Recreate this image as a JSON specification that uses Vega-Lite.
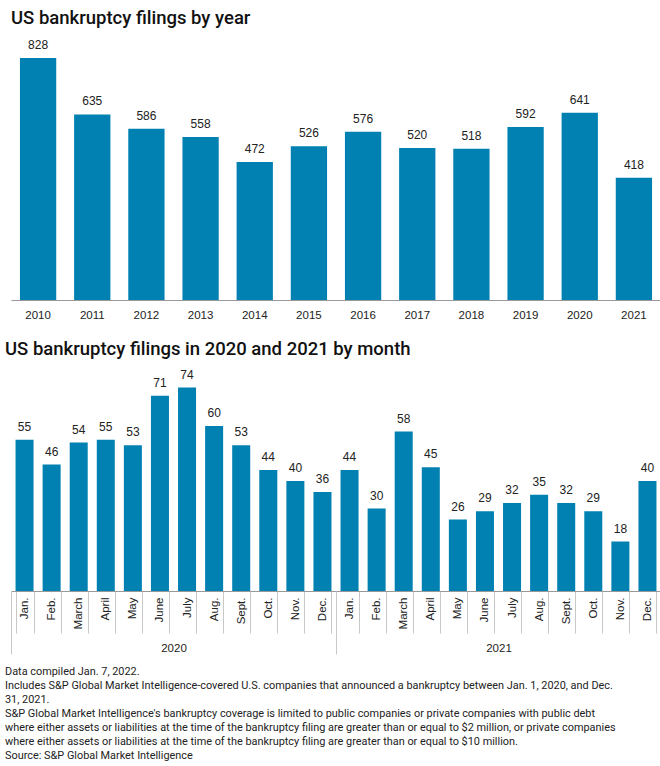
{
  "$schema": "https://vega.github.io/schema/vega-lite/v6.json",
  "padding": {"left": 5, "right": 5, "top": 8, "bottom": 4},
  "autosize": {"type": "pad"},
  "background": "white",
  "config": {
    "view": {"stroke": null},
    "font": "Liberation Sans",
    "title": {"anchor": "start", "fontSize": 18.5, "font": "Roboto", "fontWeight": 500, "color": "#111111"}
  },
  "spacing": 18,
  "title": {
    "text": [
      "Data compiled Jan. 7, 2022.",
      "Includes S&P Global Market Intelligence-covered U.S. companies that announced a bankruptcy between Jan. 1, 2020, and Dec.",
      "31, 2021.",
      "S&P Global Market Intelligence's bankruptcy coverage is limited to public companies or private companies with public debt",
      "where either assets or liabilities at the time of the bankruptcy filing are greater than or equal to $2 million, or private companies",
      "where either assets or liabilities at the time of the bankruptcy filing are greater than or equal to $10 million.",
      "Source: S&P Global Market Intelligence"
    ],
    "orient": "bottom",
    "anchor": "start",
    "fontSize": 10.9,
    "font": "Roboto",
    "fontWeight": "normal",
    "lineHeight": 14,
    "offset": 11,
    "color": "#222222"
  },
  "vconcat": [
    {
      "title": {"text": "US bankruptcy filings by year", "offset": 10},
      "width": 650,
      "height": 263,
      "data": {"values": [
        {"year": "2010", "count": 828},
        {"year": "2011", "count": 635},
        {"year": "2012", "count": 586},
        {"year": "2013", "count": 558},
        {"year": "2014", "count": 472},
        {"year": "2015", "count": 526},
        {"year": "2016", "count": 576},
        {"year": "2017", "count": 520},
        {"year": "2018", "count": 518},
        {"year": "2019", "count": 592},
        {"year": "2020", "count": 641},
        {"year": "2021", "count": 418}
      ]},
      "encoding": {
        "x": {"field": "year", "type": "ordinal", "sort": null,
          "scale": {"paddingInner": 0.33, "paddingOuter": 0.165},
          "axis": {"title": null, "labelAngle": 0, "ticks": false, "labelPadding": 9, "domainColor": "#999999", "labelFontSize": 11.5, "labelColor": "#222222"}},
        "y": {"field": "count", "type": "quantitative", "scale": {"domain": [0, 900]}, "axis": null}
      },
      "layer": [
        {"mark": {"type": "bar", "color": "#0081b2"}},
        {"mark": {"type": "text", "baseline": "bottom", "dy": -6, "fontSize": 12, "color": "#222222"}, "encoding": {"text": {"field": "count"}}}
      ]
    },
    {
      "title": {"text": "US bankruptcy filings in 2020 and 2021 by month", "offset": 10},
      "width": 650,
      "height": 220,
      "data": {"values": [
        {"key": "Jan. 2020", "year": "2020", "count": 55},
        {"key": "Feb. 2020", "year": "2020", "count": 46},
        {"key": "March 2020", "year": "2020", "count": 54},
        {"key": "April 2020", "year": "2020", "count": 55},
        {"key": "May 2020", "year": "2020", "count": 53},
        {"key": "June 2020", "year": "2020", "count": 71},
        {"key": "July 2020", "year": "2020", "count": 74},
        {"key": "Aug. 2020", "year": "2020", "count": 60},
        {"key": "Sept. 2020", "year": "2020", "count": 53},
        {"key": "Oct. 2020", "year": "2020", "count": 44},
        {"key": "Nov. 2020", "year": "2020", "count": 40},
        {"key": "Dec. 2020", "year": "2020", "count": 36},
        {"key": "Jan. 2021", "year": "2021", "count": 44},
        {"key": "Feb. 2021", "year": "2021", "count": 30},
        {"key": "March 2021", "year": "2021", "count": 58},
        {"key": "April 2021", "year": "2021", "count": 45},
        {"key": "May 2021", "year": "2021", "count": 26},
        {"key": "June 2021", "year": "2021", "count": 29},
        {"key": "July 2021", "year": "2021", "count": 32},
        {"key": "Aug. 2021", "year": "2021", "count": 35},
        {"key": "Sept. 2021", "year": "2021", "count": 32},
        {"key": "Oct. 2021", "year": "2021", "count": 29},
        {"key": "Nov. 2021", "year": "2021", "count": 18},
        {"key": "Dec. 2021", "year": "2021", "count": 40}
      ]},
      "layer": [
        {
          "encoding": {
            "x": {"field": "key", "type": "ordinal", "sort": null,
              "scale": {"paddingInner": 0.335, "paddingOuter": 0.1675},
              "axis": {"title": null, "orient": "bottom", "labelAngle": -90, "labelAlign": "right", "labelBaseline": "middle", "tickBand": "extent", "tickSize": 42, "tickColor": "#c8c8c8", "labelPadding": -36, "domainColor": "#999999", "labelExpr": "isValid(datum.value) ? split(datum.value, ' ')[0] : ''", "labelFontSize": 11.5, "labelColor": "#222222"}},
            "y": {"field": "count", "type": "quantitative", "scale": {"domain": [0, 80]}, "axis": null}
          },
          "layer": [
            {"mark": {"type": "bar", "color": "#0081b2"}},
            {"mark": {"type": "text", "baseline": "bottom", "dy": -6, "fontSize": 12, "color": "#222222"}, "encoding": {"text": {"field": "count"}}}
          ]
        },
        {
          "mark": {"type": "tick", "opacity": 0},
          "encoding": {
            "x": {"field": "year", "type": "ordinal",
              "scale": {"paddingInner": 0, "paddingOuter": 0},
              "axis": {"title": null, "orient": "bottom", "labelAngle": 0, "tickBand": "extent", "tickSize": 63, "tickColor": "#c8c8c8", "labelPadding": -12, "domain": false, "labelFontSize": 11.5, "labelColor": "#222222"}}
          }
        }
      ],
      "resolve": {"scale": {"x": "independent"}}
    }
  ]
}
